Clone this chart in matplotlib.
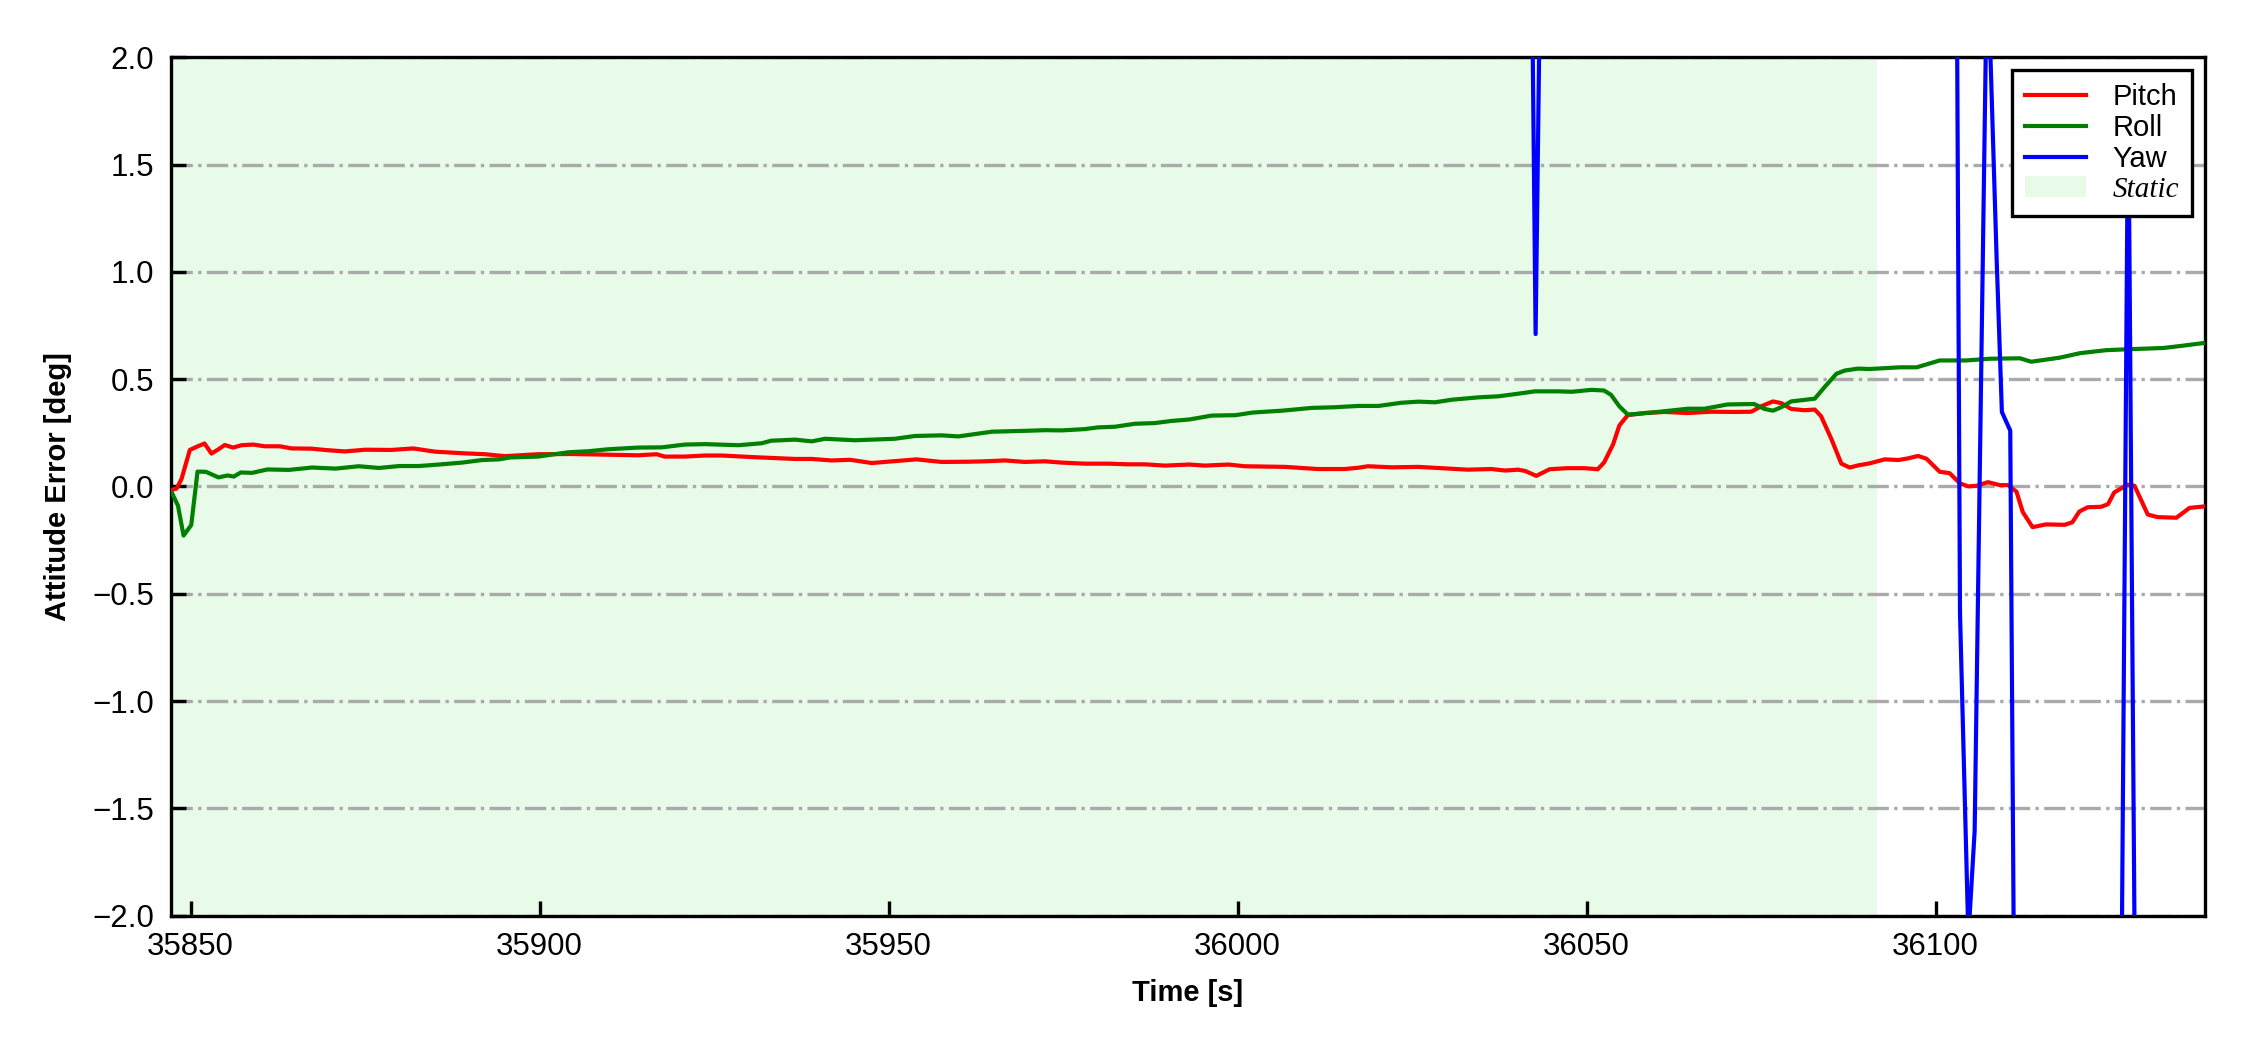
import matplotlib
matplotlib.use("Agg")
import matplotlib.pyplot as plt
from matplotlib.lines import Line2D
from matplotlib.patches import Patch

plt.rcParams['font.family'] = ['Liberation Sans', 'DejaVu Sans']
plt.rcParams['axes.unicode_minus'] = True

# ---------------- data ----------------
pitch_t = [35847.3, 35848.0, 35848.7, 35849.9, 35850.9, 35852.0, 35853.0, 35854.0, 35854.9, 35856.1,
           35857.3, 35859.0, 35860.6, 35862.8, 35864.5, 35867.3, 35869.2, 35872.1, 35875.0, 35878.8,
           35881.9, 35885.0, 35889.3, 35892.2, 35895.0, 35899.8, 35904.6, 35909.4, 35914.1, 35916.8,
           35917.9, 35920.8, 35923.7, 35926.1, 35930.9, 35933.7, 35936.6, 35939.0, 35941.8, 35944.5,
           35947.6, 35950.9, 35954.0, 35957.6, 35961.4, 35963.8, 35966.7, 35969.5, 35972.4, 35974.8,
           35978.1, 35981.5, 35984.3, 35986.7, 35989.6, 35993.1, 35995.3, 35998.7, 36001.0, 36004.3,
           36006.8, 36011.5, 36015.3, 36017.3, 36018.7, 36022.1, 36025.9, 36029.2, 36033.0, 36036.4,
           36038.3, 36040.2, 36041.2, 36042.8, 36044.7, 36047.3, 36049.7, 36051.6, 36052.5, 36053.8,
           36054.7, 36055.9, 36058.3, 36061.2, 36064.5, 36067.9, 36071.2, 36073.6, 36075.0, 36076.7,
           36077.9, 36079.3, 36081.2, 36082.7, 36083.6, 36085.1, 36086.5, 36087.7, 36088.9, 36090.5,
           36092.7, 36094.7, 36096.1, 36097.5, 36098.7, 36100.6, 36102.0, 36103.5, 36104.7, 36105.9,
           36107.5, 36109.2, 36110.4, 36111.6, 36112.5, 36113.9, 36115.8, 36118.5, 36119.6, 36120.6,
           36121.8, 36123.7, 36124.7, 36125.6, 36127.5, 36128.5, 36130.4, 36131.8, 36134.5, 36136.4,
           36138.6]
pitch = [-0.016, -0.010, 0.034, 0.170, 0.185, 0.200, 0.153, 0.173, 0.193, 0.181,
         0.192, 0.195, 0.187, 0.187, 0.177, 0.176, 0.170, 0.163, 0.171, 0.170,
         0.177, 0.162, 0.154, 0.150, 0.141, 0.150, 0.151, 0.148, 0.145, 0.150,
         0.139, 0.139, 0.144, 0.144, 0.136, 0.132, 0.128, 0.128, 0.121, 0.124,
         0.109, 0.118, 0.126, 0.114, 0.115, 0.117, 0.121, 0.114, 0.117, 0.111,
         0.106, 0.106, 0.103, 0.103, 0.097, 0.102, 0.097, 0.102, 0.094, 0.092,
         0.091, 0.081, 0.081, 0.087, 0.094, 0.089, 0.091, 0.085, 0.078, 0.081,
         0.074, 0.078, 0.072, 0.049, 0.080, 0.085, 0.085, 0.080, 0.111, 0.196,
         0.284, 0.332, 0.342, 0.347, 0.342, 0.348, 0.347, 0.348, 0.373, 0.396,
         0.388, 0.361, 0.355, 0.358, 0.327, 0.219, 0.106, 0.088, 0.098, 0.107,
         0.126, 0.123, 0.131, 0.142, 0.129, 0.068, 0.062, 0.014, 0.000, 0.003,
         0.020, 0.006, 0.006, -0.025, -0.120, -0.190, -0.177, -0.179, -0.167, -0.117,
         -0.097, -0.095, -0.083, -0.028, 0.008, 0.003, -0.131, -0.143, -0.146, -0.100,
         -0.093]

roll_t = [35847.3, 35848.2, 35849.0, 35850.1, 35851.0, 35852.2, 35854.0, 35855.3, 35856.2, 35857.2,
          35858.8, 35861.0, 35864.1, 35867.4, 35870.8, 35874.1, 35877.0, 35879.9, 35882.7, 35885.6,
          35888.9, 35891.8, 35894.2, 35895.8, 35899.8, 35904.1, 35907.0, 35909.8, 35914.1, 35917.5,
          35920.8, 35923.7, 35928.5, 35931.8, 35933.2, 35936.6, 35939.0, 35940.9, 35945.2, 35950.9,
          35953.8, 35957.6, 35960.0, 35964.8, 35969.5, 35972.4, 35974.8, 35978.1, 35980.0, 35982.4,
          35985.3, 35988.1, 35990.5, 35993.1, 35996.3, 35999.7, 36002.1, 36006.4, 36010.7, 36014.0,
          36017.3, 36020.2, 36023.5, 36025.9, 36028.3, 36030.7, 36034.5, 36037.4, 36040.2, 36042.6,
          36046.0, 36047.9, 36050.7, 36052.5, 36053.5, 36054.7, 36055.9, 36057.3, 36060.2, 36064.5,
          36066.9, 36070.2, 36074.0, 36075.5, 36076.7, 36077.9, 36079.3, 36082.7, 36084.1, 36085.8,
          36087.0, 36088.9, 36090.5, 36094.9, 36097.3, 36100.6, 36104.4, 36107.8, 36112.1, 36113.7,
          36117.8, 36120.7, 36124.5, 36128.3, 36132.6, 36135.5, 36138.6]
roll = [-0.028, -0.090, -0.229, -0.180, 0.069, 0.068, 0.042, 0.051, 0.046, 0.065,
        0.063, 0.079, 0.077, 0.088, 0.083, 0.094, 0.086, 0.095, 0.095, 0.102,
        0.111, 0.123, 0.126, 0.135, 0.139, 0.159, 0.164, 0.173, 0.181, 0.182,
        0.195, 0.197, 0.192, 0.201, 0.213, 0.218, 0.210, 0.222, 0.215, 0.222,
        0.235, 0.238, 0.233, 0.255, 0.259, 0.262, 0.261, 0.267, 0.275, 0.278,
        0.292, 0.295, 0.305, 0.312, 0.330, 0.332, 0.344, 0.353, 0.366, 0.369,
        0.375, 0.375, 0.390, 0.395, 0.392, 0.404, 0.415, 0.420, 0.432, 0.443,
        0.443, 0.441, 0.450, 0.447, 0.427, 0.373, 0.335, 0.338, 0.347, 0.362,
        0.362, 0.382, 0.384, 0.361, 0.353, 0.369, 0.396, 0.409, 0.463, 0.525,
        0.540, 0.549, 0.547, 0.555, 0.555, 0.587, 0.587, 0.595, 0.597, 0.581,
        0.600, 0.621, 0.635, 0.640, 0.645, 0.656, 0.669]

# yaw error is mostly far outside the +/-2 deg window
yaw_t = [35847.0, 35900.0, 35950.0, 36000.0, 36041.7, 36042.7, 36043.7, 36070.0, 36102.5, 36103.5,
         36104.7, 36105.6, 36107.4, 36108.75, 36109.5, 36110.7, 36111.7, 36120.0, 36126.6, 36127.6,
         36128.6, 36138.6]
yaw = [5.0, 5.5, 4.8, 4.5, 3.9, 0.71, 3.3, 5.0, 5.9, -0.59,
       -2.1, -1.605, 2.5, 1.06, 0.347, 0.26, -4.5, -5.0, -2.5, 1.85,
       -2.5, -4.0]

static_span = (35840.0, 36091.6)
x_limits = (35847.2, 36138.6)
y_limits = (-2.0, 2.0)
x_ticks = [35850, 35900, 35950, 36000, 36050, 36100]
y_ticks = [-2.0, -1.5, -1.0, -0.5, 0.0, 0.5, 1.0, 1.5, 2.0]

# ---------------- plot ----------------
fig = plt.figure(figsize=(7.5, 3.5), dpi=300)
ax = fig.add_axes([0.0760, 0.1280, 0.9040, 0.8175])

ax.axvspan(static_span[0], static_span[1], color='lightgreen', alpha=0.2, lw=0, zorder=0)
ax.plot(pitch_t, pitch, color='red', lw=1.0, zorder=3)
ax.plot(roll_t, roll, color='green', lw=1.0, zorder=3)
ax.plot(yaw_t, yaw, color='blue', lw=1.0, zorder=3)

ax.set_xlim(*x_limits)
ax.set_ylim(*y_limits)
ax.set_xticks(x_ticks)
ax.set_yticks(y_ticks)
ax.set_yticklabels([f"{v:.1f}".replace('-', '\u2212') for v in y_ticks])
ax.tick_params(direction='in', length=3.6, width=0.8, labelsize=7.5, top=False, right=False, pad=4)
ax.yaxis.grid(True, linestyle='-.', color='#aaaaaa', lw=0.8, zorder=1)
ax.xaxis.grid(False)
ax.set_axisbelow(True)
for s in ax.spines.values():
    s.set_linewidth(0.8)

ax.set_xlabel('Time [s]', fontsize=7, fontweight='bold', labelpad=4)
ax.set_ylabel('Attitude Error [deg]', fontsize=7, fontweight='bold', labelpad=5)

handles = [Line2D([], [], color='red', lw=1.0),
           Line2D([], [], color='green', lw=1.0),
           Line2D([], [], color='blue', lw=1.0),
           Patch(facecolor='lightgreen', alpha=0.2, lw=0)]
labels = ['Pitch', 'Roll', 'Yaw', 'Static']
leg = ax.legend(handles, labels, loc='upper right', fontsize=7, frameon=True, fancybox=False,
                edgecolor='black', framealpha=1.0, labelspacing=0.1, handlelength=2.1,
                handletextpad=0.9, borderpad=0.45, borderaxespad=0.45)
leg.get_frame().set_linewidth(0.8)
texts = leg.get_texts()
texts[3].set_fontfamily(['Liberation Serif', 'DejaVu Serif'])
texts[3].set_fontstyle('italic')
leg.set_zorder(10)

fig.savefig('out.png', dpi=300)
